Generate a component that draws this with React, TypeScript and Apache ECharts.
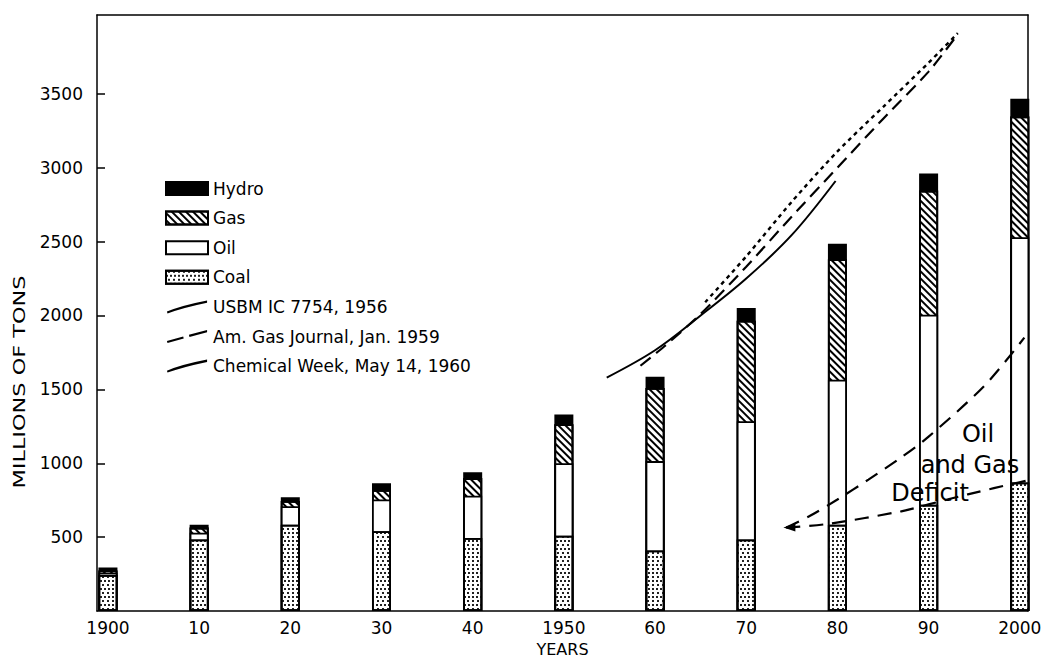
import React, { useEffect, useRef } from "react";
import * as echarts from "echarts";

const FONT = "'DejaVu Sans', 'Noto Sans', sans-serif";

// Decades (categories) and tick labels
const years = [1900, 1910, 1920, 1930, 1940, 1950, 1960, 1970, 1980, 1990, 2000];
const xTickLabels = ["1900", "10", "20", "30", "40", "1950", "60", "70", "80", "90", "2000"];
const yTicks = [500, 1000, 1500, 2000, 2500, 3000, 3500];

// Energy consumption, millions of tons (coal equivalent), by source
const coal = [245, 485, 585, 540, 495, 510, 410, 485, 585, 720, 870];
const oil = [15, 45, 125, 215, 285, 490, 605, 800, 980, 1285, 1660];
const gas = [15, 35, 35, 65, 120, 265, 495, 680, 815, 840, 817];
const hydro = [20, 20, 25, 45, 40, 65, 75, 85, 105, 115, 120];

// Forecast curves [year, value]
const usbm: number[][] = [[1954.7, 1580], [1960, 1765], [1965, 2000], [1970, 2250], [1975, 2545], [1979.8, 2910]];
const amGas: number[][] = [[1958.4, 1660], [1961, 1790], [1965, 2010], [1970, 2330], [1975, 2670], [1980, 3000], [1985, 3330], [1990, 3650], [1992.8, 3870]];
const chemWeek: number[][] = [[1965.5, 2090], [1970, 2400], [1975, 2770], [1980, 3110], [1985, 3410], [1990, 3710], [1993.2, 3910]];

// Oil and gas deficit bounds [year, value]
const deficitUpper: number[][] = [[1974.4, 565], [1977, 645], [1980, 755], [1983.4, 890], [1987, 1040], [1990, 1180], [1996.2, 1530], [2000.5, 1850]];
const deficitLower: number[][] = [[1974.4, 565], [1979, 590], [1987, 675], [1990, 722], [1994.3, 790], [2000.9, 885]];

const legendNames = {
  usbm: "USBM IC 7754, 1956",
  amGas: "Am. Gas Journal, Jan. 1959",
  chem: "Chemical Week, May 14, 1960",
};

const X_MIN = 1898.8;
const X_MAX = 2000.9;
const Y_MAX = 4033;

const BORDER = { borderColor: "#000", borderWidth: 1.8 };

export default function App() {
  const ref = useRef<HTMLDivElement>(null);

  useEffect(() => {
    if (!ref.current) return;
    const chart = echarts.init(ref.current, undefined, { renderer: "svg" });

    const cumOil = coal.map((c, i) => c + oil[i]);
    const cumGas = cumOil.map((c, i) => c + gas[i]);
    const cumHydro = cumGas.map((c, i) => c + hydro[i]);
    const pts = (arr: number[]) => years.map((y, i) => [y, arr[i]]);

    const barBase = { type: "bar", barWidth: 19, barGap: "-100%", z: 2 };

    const solidIcon = "path://M0,11.6 Q16,5 42,0 L42,2.4 Q17,7.6 0.6,13.6 Z";
    const dashIcon = "path://M0,11.6 L17,6.8 L17.6,9 L0.6,13.6 Z M23,5 L42,0 L42,2.3 L23.6,7.2 Z";

    const option: any = {
      animation: false,
      backgroundColor: "#fff",
      textStyle: { fontFamily: FONT },
      grid: { left: 97, right: 25, top: 15, bottom: 42 },
      legend: {
        orient: "vertical",
        left: 160,
        top: 175,
        itemWidth: 42,
        itemHeight: 13,
        itemGap: 12.6,
        selectedMode: false,
        textStyle: { fontFamily: FONT, fontSize: 17, color: "#000" },
        data: [
          { name: "Hydro", icon: "rect" },
          { name: "Gas", icon: "rect" },
          { name: "Oil", icon: "rect" },
          { name: "Coal", icon: "rect" },
          { name: legendNames.usbm, icon: solidIcon },
          { name: legendNames.amGas, icon: dashIcon },
          { name: legendNames.chem, icon: solidIcon },
        ],
      },
      xAxis: [
        {
          type: "value",
          min: X_MIN,
          max: X_MAX,
          position: "bottom",
          axisLine: { show: true, onZero: false, lineStyle: { color: "#000", width: 1.5 } },
          axisTick: { show: false },
          splitLine: { show: false },
          axisLabel: {
            customValues: years,
            formatter: (v: number) => {
              const i = years.indexOf(Math.round(v));
              return i >= 0 ? xTickLabels[i] : "";
            },
            fontSize: 17,
            fontFamily: FONT,
            color: "#000",
            margin: 8,
          },
          name: "YEARS",
          nameLocation: "middle",
          nameGap: 26,
          nameTextStyle: { fontSize: 16, fontFamily: FONT, color: "#000" },
        },
        {
          type: "value",
          min: X_MIN,
          max: X_MAX,
          position: "top",
          axisLine: { show: true, onZero: false, lineStyle: { color: "#000", width: 1.5 } },
          axisTick: { show: false },
          axisLabel: { show: false },
          splitLine: { show: false },
        },
      ],
      yAxis: [
        {
          type: "value",
          min: 0,
          max: Y_MAX,
          axisLine: { show: true, onZero: false, lineStyle: { color: "#000", width: 1.5 } },
          axisTick: { show: true, inside: true, length: 8, customValues: yTicks, lineStyle: { color: "#000", width: 1.5 } },
          axisLabel: {
            customValues: yTicks,
            formatter: (v: number) => String(v),
            fontSize: 17,
            fontFamily: FONT,
            color: "#000",
            margin: 14,
          },
          splitLine: { show: false },
        },
        {
          type: "value",
          min: 0,
          max: Y_MAX,
          position: "right",
          axisLine: { show: true, onZero: false, lineStyle: { color: "#000", width: 1.5 } },
          axisTick: { show: false },
          axisLabel: { show: false },
          splitLine: { show: false },
        },
      ],
      series: [
        { ...barBase, name: "Hydro", data: pts(cumHydro), itemStyle: { color: "#000", ...BORDER } },
        {
          ...barBase,
          name: "Gas",
          data: pts(cumGas),
          itemStyle: {
            color: "#fff",
            ...BORDER,
            decal: { symbol: "rect", symbolSize: 1, dashArrayX: [1, 0], dashArrayY: [1.4, 2.8], rotation: Math.PI / 4, color: "#000" },
          },
        },
        { ...barBase, name: "Oil", data: pts(cumOil), itemStyle: { color: "#fff", ...BORDER } },
        {
          ...barBase,
          name: "Coal",
          data: pts(coal),
          itemStyle: {
            color: "#fff",
            ...BORDER,
            decal: {
              symbol: "rect",
              symbolSize: 1,
              dashArrayX: [[1.3, 1.7], [0, 1.5, 1.3, 0.2]],
              dashArrayY: [1.3, 1.3],
              color: "#222",
            },
          },
        },
        {
          type: "line",
          name: legendNames.usbm,
          data: usbm,
          smooth: 0.35,
          symbol: "none",
          lineStyle: { color: "#000", width: 2 },
          itemStyle: { color: "#000", borderWidth: 0 },
          z: 4,
        },
        {
          type: "line",
          name: legendNames.amGas,
          data: amGas,
          smooth: 0.25,
          symbol: "none",
          lineStyle: { color: "#000", width: 2.2, type: [13, 7] },
          itemStyle: { color: "#000", borderWidth: 0 },
          z: 4,
        },
        {
          type: "line",
          name: legendNames.chem,
          data: chemWeek,
          smooth: 0.25,
          symbol: "none",
          lineStyle: { color: "#000", width: 2.4, type: [4, 4] },
          itemStyle: { color: "#000", borderWidth: 0 },
          z: 4,
        },
        {
          type: "line",
          name: "Deficit upper",
          data: deficitUpper,
          smooth: 0.3,
          symbol: "none",
          lineStyle: { color: "#000", width: 2.2, type: [14, 9] },
          z: 4,
        },
        {
          type: "line",
          name: "Deficit lower",
          data: deficitLower.map((p, i) =>
            i === 0 ? { value: p, symbol: "triangle", symbolSize: [8, 12], symbolRotate: 90, symbolOffset: [3, 0] } : p
          ),
          smooth: 0.3,
          symbol: "none",
          showSymbol: true,
          lineStyle: { color: "#000", width: 2.2, type: [14, 9] },
          itemStyle: { color: "#000", borderWidth: 0 },
          z: 4,
        },
      ],
      graphic: [
        {
          type: "text",
          x: 20,
          y: 382,
          rotation: Math.PI / 2,
          scaleX: 1.4,
          style: { text: "MILLIONS OF TONS", fontSize: 16, fontFamily: FONT, fill: "#000", align: "center", verticalAlign: "middle" },
        },
        {
          type: "text",
          x: 978,
          y: 434,
          z: 10,
          style: { text: "Oil", fontSize: 24, fontFamily: FONT, fill: "#000", align: "center", verticalAlign: "middle" },
        },
        {
          type: "text",
          x: 970,
          y: 465,
          z: 10,
          style: { text: "and Gas", fontSize: 24, fontFamily: FONT, fill: "#000", align: "center", verticalAlign: "middle" },
        },
        {
          type: "text",
          x: 930,
          y: 493,
          z: 10,
          style: { text: "Deficit", fontSize: 24, fontFamily: FONT, fill: "#000", align: "center", verticalAlign: "middle" },
        },
      ],
    };

    chart.setOption(option);
    return () => chart.dispose();
  }, []);

  return <div ref={ref} style={{ position: "fixed", left: 0, top: 0, width: 1053, height: 662, background: "#fff" }} />;
}
